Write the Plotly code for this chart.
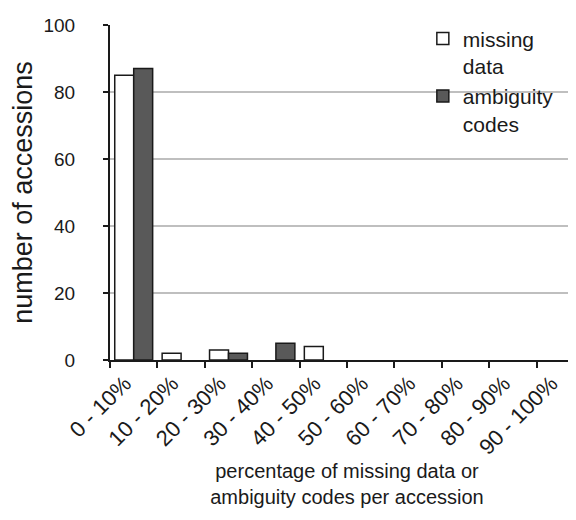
import plotly.graph_objects as go

categories = ["0 - 10%", "10 - 20%", "20 - 30%", "30 - 40%", "40 - 50%",
              "50 - 60%", "60 - 70%", "70 - 80%", "80 - 90%", "90 - 100%"]
missing_data = [85, 2, 3, 0, 4, 0, 0, 0, 0, 0]
ambiguity_codes = [87, 0, 2, 5, 0, 0, 0, 0, 0, 0]
y_ticks = [0, 20, 40, 60, 80, 100]

FONT = "Liberation Sans, Arial, sans-serif"
INK = "#1a1a1a"


def outline(values):
    # hide outline of empty bars so zero-height bars are not drawn
    return [1.5 if v > 0 else 0 for v in values]


fig = go.Figure()
fig.add_trace(go.Bar(
    x=categories, y=missing_data, name="missing<br>data",
    marker=dict(color="white", line=dict(color=INK, width=outline(missing_data))),
))
fig.add_trace(go.Bar(
    x=categories, y=ambiguity_codes, name="ambiguity<br>codes",
    marker=dict(color="#595959", line=dict(color=INK, width=outline(ambiguity_codes))),
))

fig.update_layout(
    width=576, height=520,
    paper_bgcolor="white", plot_bgcolor="white",
    margin=dict(l=102, r=0, t=17, b=168),
    barmode="group", bargap=0.2, bargroupgap=0,
    font=dict(family=FONT, size=18, color=INK),
    showlegend=True,
    legend=dict(
        x=0.66, y=1.02, xanchor="left", yanchor="top",
        font=dict(size=21, color=INK),
        valign="top", tracegroupgap=8,
        bgcolor="rgba(0,0,0,0)",
    ),
    xaxis=dict(
        type="category", tickson="boundaries",
        ticks="outside", ticklen=6, tickwidth=2, tickcolor=INK,
        showline=True, linecolor=INK, linewidth=2,
        tickangle=-45, tickfont=dict(size=22),
        ticklabelshift=-9,
        title=dict(text="percentage of missing data or<br>ambiguity codes per accession",
                   font=dict(size=20), standoff=4),
        showgrid=False,
    ),
    yaxis=dict(
        range=[0, 100], tickvals=y_ticks,
        ticks="outside", ticklen=5, tickwidth=2, tickcolor=INK,
        showline=True, linecolor=INK, linewidth=2,
        showgrid=True, gridcolor="#bfbfbf", gridwidth=1.5,
        zeroline=False, tickfont=dict(size=19),
        ticklabelstandoff=24,
        title=dict(text="number of accessions", font=dict(size=27), standoff=10),
    ),
)

fig.write_html("out.html")
